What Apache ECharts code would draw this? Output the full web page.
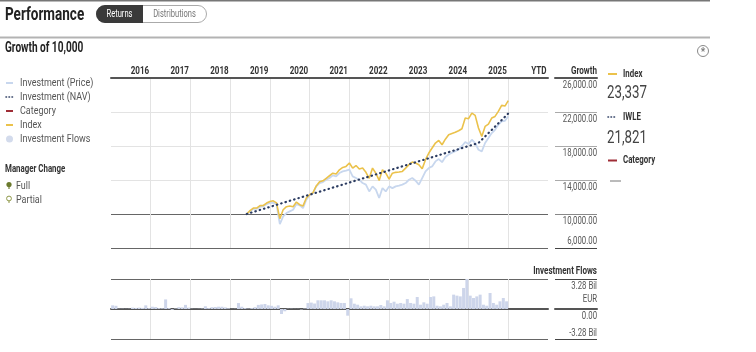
<!DOCTYPE html>
<html><head><meta charset="utf-8">
<script src="https://cdn.jsdelivr.net/npm/echarts@6/dist/echarts.min.js"></script>
<style>html,body{margin:0;padding:0;background:#fff}#c{width:756px;height:352px}</style>
</head><body><div id="c"></div>
<script>
// ---------- DATA ----------
const years = ['2016','2017','2018','2019','2020','2021','2022','2023','2024','2025','YTD'];
const startMonth = 41; // months after Jan 2016 of first growth point
const indexValues = [10000,10390,10700,10700,10980,11000,11290,11480,11550,11300,
  9450,10500,10860,10940,10860,11410,11100,10950,11880,12270,
  12500,13300,13800,13900,14200,14500,14800,14700,15200,15480,
  15600,16000,15400,15700,15300,15400,14900,14200,15400,14800,
  13950,15200,14800,14100,14800,14900,14940,15010,15400,15800,
  16110,16000,15800,15330,16390,17170,17760,18350,18660,18150,
  18800,19330,19480,19620,19800,20030,21290,21210,21870,21600,
  20110,19130,20300,20580,21290,21480,22070,22780,22700,23337];
const priceValues = [10000,10300,10600,10600,10850,10900,11150,11300,11350,11100,
  8800,9720,10110,10310,10500,11170,11020,10700,11680,12190,
  12470,13250,13640,13760,14030,14230,14540,14430,14820,15010,
  15090,15210,14430,14230,14030,13640,13450,12660,13250,12860,
  11880,13050,12660,13250,13050,13250,13330,13450,13640,14030,
  14230,13920,13450,14230,15010,15410,15600,16190,16460,16100,
  16700,17000,17200,17400,17600,18000,18460,18230,18740,18350,
  17560,17370,18350,18930,19520,19910,20500,20890,20970,21500];
const navOffsets = [0, 70, 79];
const navValues = [10000, 18350, 21821];
const flowValues = [0.40,0.35,0.03,0.03,0.02,0.03,0.15,0.12,0.15,0.12,
  0.40,0.10,0.25,0.22,0.10,0.08,1.05,0.10,-0.10,0.05,
  0.20,0.18,0.45,0.15,0.03,0.02,0.03,0.05,0.30,0.10,
  0.20,0.22,0.25,0.25,0.18,0.08,0.02,0.03,0.65,0.25,
  0.10,0.05,0.10,0.20,0.45,0.50,0.55,0.40,0.35,0.25,
  0.40,-0.55,-0.25,0.03,0.03,0.02,0.02,-0.05,0.05,0.65,
  0.70,0.60,0.95,0.95,0.95,0.84,0.95,0.84,0.73,0.66,
  0.66,-0.73,1.17,0.58,0.47,0.29,0.36,0.29,0.36,0.29,
  0.29,0.44,0.29,0.95,0.66,0.80,0.58,0.66,0.58,1.09,
  0.66,0.58,1.31,0.47,0.73,0.58,1.31,1.38,0.36,0.29,
  0.47,0.66,0.29,1.57,1.46,1.38,2.30,3.28,1.46,1.20,
  1.38,1.57,0.47,0.36,1.75,0.66,0.47,0.84,1.20,0.84];
const growthTicks = [6000,10000,14000,18000,22000,26000];
const flowTicks = [-3.28, 0, 3.28];
const flowTickLabels = ['-3.28 Bil', '0.00', '3.28 Bil', 'EUR'];
const legendLeft = ['Investment (Price)','Investment (NAV)','Category','Index','Investment Flows'];

// ---------- STYLE ----------
const F = "Roboto, 'Liberation Sans', sans-serif";
const C = {index:'#ebc24b', price:'#c8d7ee', nav:'#2d3d62', cat:'#9f2d36', flow:'#cdd5ea'};
const fmtGrowth = v => v.toLocaleString('en-US',{minimumFractionDigits:2,maximumFractionDigits:2});
const fmtInt = v => Math.round(v).toLocaleString('en-US');

const chart = echarts.init(document.getElementById('c'), null, {renderer:'canvas'});
const monthsMax = years.length*12;

const xMain = gi => ({
  type:'value', gridIndex:gi, min:0, max:monthsMax, interval:12, position:'top',
  axisLine:{show:true, lineStyle:{color:'#555', width:2}},
  axisTick:{show:false}, axisLabel:{show:false},
  splitLine:{show:true, showMinLine:false, showMaxLine:false, lineStyle:{color:'#e3e3e3', width:1}}
});
const xSide = gi => ({type:'value', gridIndex:gi, min:0, max:1, position:'top',
  axisLine:{show:true, lineStyle:{color:'#555', width:2}}, axisTick:{show:false}, axisLabel:{show:false}, splitLine:{show:false}});
const yBase = (gi, ticks, iv, colors) => ({type:'value', gridIndex:gi, min:ticks[0], max:ticks[ticks.length-1], interval:iv,
  axisLine:{show:false}, axisTick:{show:false}, axisLabel:{show:false},
  splitLine:{lineStyle:{color:colors, width:1}}});

chart.setOption({
  animation:false,
  grid:[
    {left:111, top:78, width:437, height:170, outerBoundsMode:'none'},
    {left:555, top:78, width:42, height:170, outerBoundsMode:'none'},
    {left:111, top:279, width:437, height:60, outerBoundsMode:'none'},
    {left:555, top:279, width:42, height:60, outerBoundsMode:'none'}
  ],
  xAxis:[ xMain(0), xSide(1), xMain(2), xSide(3) ],
  yAxis:[
    yBase(0, growthTicks, 4000, ['#666','#666','#e3e3e3','#e3e3e3','#e3e3e3','#666']),
    yBase(1, growthTicks, 4000, ['#444','#888','#aaa','#aaa','#aaa','#444']),
    yBase(2, [flowTicks[0], flowTicks[2]], 3.28, ['#666','#c8c8c8','#666']),
    yBase(3, [flowTicks[0], flowTicks[2]], 3.28, ['#444','#888','#444'])
  ],
  series:[
    {type:'bar', name:'Investment Flows', xAxisIndex:2, yAxisIndex:2, barWidth:3, silent:true,
      itemStyle:{color:C.flow}, data: flowValues.map((v,m)=>[m+0.5, v])},
    {type:'line', name:'Investment (Price)', xAxisIndex:0, yAxisIndex:0, showSymbol:false, silent:true, z:3,
      lineStyle:{color:C.price, width:1.8}, data: priceValues.map((v,i)=>[startMonth+i, v])},
    {type:'line', name:'Index', xAxisIndex:0, yAxisIndex:0, showSymbol:false, silent:true, z:4,
      lineStyle:{color:C.index, width:1.6}, data: indexValues.map((v,i)=>[startMonth+i, v])},
    {type:'line', name:'Investment (NAV)', xAxisIndex:0, yAxisIndex:0, showSymbol:false, silent:true, z:5,
      lineStyle:{color:C.nav, width:2.2, type:[0.5,4], cap:'round'}, data: navValues.map((v,i)=>[startMonth+navOffsets[i], v])}
  ]
});

// ---------- TEXT & DECOR (condensed look via scaleX) ----------
const T = (x,y,text,size,opt) => { opt = opt||{}; return {type:'text', silent:true, x, y, scaleX:opt.sx||0.76, z:10,
  style:{x:0, y:0, text, font:(opt.bold?'bold ':'')+size+'px '+F, fill:opt.fill||'#333',
    textAlign:opt.align||'left', textVerticalAlign:opt.va||'middle', align:opt.align||'left', verticalAlign:opt.va||'middle'}}; };
const L = (x1,y1,x2,y2,stroke,w,dash) => ({type:'line', silent:true, shape:{x1,y1,x2,y2}, style:{stroke, lineWidth:w||1, lineDash:dash||null, lineCap:dash?'round':'butt'}});

const g = [];
// header
g.push({type:'rect', silent:true, shape:{x:0,y:0,width:710,height:1.5}, style:{fill:'#777'}});
g.push(T(5,15,'Performance',18,{bold:true, fill:'#222', sx:0.75}));
g.push({type:'rect', silent:true, shape:{x:96.5,y:5.5,width:110,height:17,r:8.5}, style:{fill:'#fff', stroke:'#aaa', lineWidth:1}});
g.push({type:'rect', silent:true, shape:{x:96,y:5,width:47,height:18,r:[9,0,0,9]}, style:{fill:'#3a3a3a'}});
g.push(T(119.5,14,'Returns',10.5,{fill:'#fff', align:'center', sx:0.72}));
g.push(T(174.5,14,'Distributions',10.5,{fill:'#777', align:'center', sx:0.72}));
g.push({type:'rect', silent:true, shape:{x:0,y:36.5,width:710,height:2}, style:{fill:'#b3b3b3'}});
g.push(T(5,48,'Growth of 10,000',14,{bold:true, fill:'#222', sx:0.72}));
g.push({type:'circle', silent:true, shape:{cx:703,cy:51,r:5.5}, style:{fill:'#fff', stroke:'#888', lineWidth:1}});
g.push(T(703,52.5,'*',10,{bold:true, fill:'#777', align:'center', sx:1}));

// year header labels (right-aligned to each column's right boundary)
years.forEach((y,k)=>{
  const px = chart.convertToPixel({xAxisIndex:0}, (k+1)*12);
  g.push(T(px-1.5, 71, y, 11.5, {bold:true, align:'right', sx:0.7}));
});
// growth column
g.push(T(597, 71, 'Growth', 11.5, {bold:true, align:'right', sx:0.7}));
growthTicks.forEach((t,k)=>{
  const py = chart.convertToPixel({yAxisIndex:1}, t);
  const yy = k===0 ? py-6.5 : py+7.5;
  g.push(T(597, yy, fmtGrowth(t), 10.8, {fill:'#555', align:'right', sx:0.72}));
});
// flows column
g.push(T(597, 271, 'Investment Flows', 11.5, {bold:true, align:'right', sx:0.7}));
{
  const pTop = chart.convertToPixel({yAxisIndex:3}, flowTicks[2]);
  const pZero = chart.convertToPixel({yAxisIndex:3}, flowTicks[1]);
  const pMin = chart.convertToPixel({yAxisIndex:3}, flowTicks[0]);
  g.push(T(597, pTop+7, flowTickLabels[2], 10.8, {fill:'#555', align:'right', sx:0.72}));
  g.push(T(597, pTop+20, flowTickLabels[3], 10.8, {fill:'#555', align:'right', sx:0.72}));
  g.push(T(597, pZero+7, flowTickLabels[1], 10.8, {fill:'#555', align:'right', sx:0.72}));
  g.push(T(597, pMin-6, flowTickLabels[0], 10.8, {fill:'#555', align:'right', sx:0.72}));
}

// left legend
const ly = [83,97,111,125,139];
g.push(L(6,ly[0],13,ly[0],C.price,2));
g.push(L(6,ly[1],14,ly[1],C.nav,1.6,[0.5,2.5]));
g.push(L(6,ly[2],13,ly[2],C.cat,2));
g.push(L(6,ly[3],13,ly[3],C.index,2));
g.push({type:'circle', silent:true, shape:{cx:9.5,cy:ly[4],r:3.5}, style:{fill:'#d3dbec'}});
legendLeft.forEach((s,i)=>g.push(T(20,ly[i],s,11.5,{fill:'#555', sx:0.78})));
g.push(T(5,169,'Manager Change',10.5,{bold:true, fill:'#333', sx:0.75}));
g.push({type:'circle', silent:true, shape:{cx:9,cy:184.5,r:2.6}, style:{fill:'#6b7a2e'}});
g.push(L(9,186,9,189,'#6b7a2e',1.2));
g.push(T(16,186,'Full',11.5,{fill:'#555', sx:0.78}));
g.push({type:'circle', silent:true, shape:{cx:9,cy:198.5,r:2.4}, style:{fill:'#fff', stroke:'#8c9645', lineWidth:1}});
g.push(L(9,201,9,203,'#8c9645',1));
g.push(T(16,200,'Partial',11.5,{fill:'#555', sx:0.78}));

// right legend
g.push(L(608,74,617,74,C.index,2));
g.push(T(623,74,'Index',10.5,{bold:true, sx:0.75}));
g.push(T(607,93,fmtInt(indexValues[indexValues.length-1]),18.5,{fill:'#444', sx:0.72}));
g.push(L(608,117,617,117,C.nav,1.6,[0.5,2.5]));
g.push(T(623,117,'IWLE',10.5,{bold:true, sx:0.75}));
g.push(T(607,138,fmtInt(navValues[navValues.length-1]),18.5,{fill:'#444', sx:0.72}));
g.push(L(608,160.5,617,160.5,C.cat,2));
g.push(T(623,160.5,'Category',10.5,{bold:true, sx:0.75}));
g.push(L(610,181,621,181,'#777',1));

chart.setOption({graphic:{elements:g}});
</script></body></html>
